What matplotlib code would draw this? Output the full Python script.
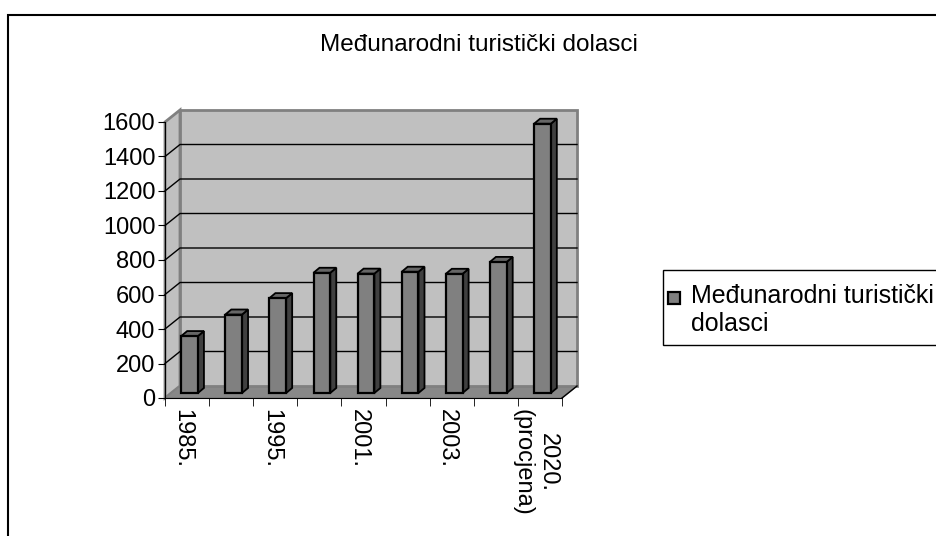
import numpy as np
import matplotlib.pyplot as plt
from matplotlib.patches import Polygon, Rectangle
from matplotlib.transforms import IdentityTransform, ScaledTranslation

plt.rcParams['font.family'] = ['Liberation Sans', 'DejaVu Sans']

godine = ['1985.', '1990.', '1995.', '2000.', '2001.', '2002.', '2003.', '2004.',
          '2020.\n(procjena)']
dolasci = [330, 455, 550, 697, 692, 703, 691, 760, 1561]
prikazane = [0, 2, 4, 6, 8]
naslov = 'Međunarodni turistički dolasci'
serija = 'Međunarodni turistički\ndolasci'
y_ticks = list(range(0, 1601, 200))

W, H = 936, 536
fig = plt.figure(figsize=(W / 100, H / 100), dpi=100)


def fx(x):
    return x / W


def fy(y):
    return 1 - y / H


ax = fig.add_axes([fx(165), fy(398), 397 / W, 276 / H])
n = len(dolasci)
x0, x1 = -0.5, n - 0.5
top = y_ticks[-1]
ax.set_xlim(x0, x1)
ax.set_ylim(0, top)
ax.set_autoscale_on(False)
ax.patch.set_visible(False)
ax.spines['top'].set_visible(False)
ax.spines['right'].set_visible(False)

# pseudo 3d: depth of the plot box in pixels (right, up)
DEPTH = np.array([15.0, 12.0])
ident = IdentityTransform()


def px(x, y, d=0.0):
    return ax.transData.transform((x, y)) + d * DEPTH


def face(pts, fc, ec='black', lw=1.0, z=1):
    ax.add_patch(Polygon(pts, closed=True, fc=fc, ec=ec, lw=lw,
                         transform=ident, clip_on=False, zorder=z))


# walls and floor
face([px(x0, 0), px(x0, top), px(x0, top, 1), px(x0, 0, 1)], '#c0c0c0', '#808080', 2)
face([px(x0, 0), px(x1, 0), px(x1, 0, 1), px(x0, 0, 1)], '#888888', '#808080', 1)
face([px(x0, 0, 1), px(x1, 0, 1), px(x1, top, 1), px(x0, top, 1)], '#c0c0c0', '#808080', 2)

for g in y_ticks[1:-1]:
    pts = np.array([px(x0, g), px(x0, g, 1), px(x1, g, 1)])
    ax.plot(pts[:, 0], pts[:, 1], color='black', lw=1, transform=ident,
            clip_on=False, zorder=1.5)

edge = np.array([px(x1, 0), px(x1, 0, 1)])
ax.plot(edge[:, 0], edge[:, 1], color='black', lw=1, transform=ident,
        clip_on=False, zorder=1.5)

# columns: front face offset and column depth, in pixels
hw = 0.19
BAR_OFF = np.array([2.5, 5.0])
BAR_D = np.array([6.0, 5.0])
shift = ScaledTranslation(BAR_OFF[0] / 100, BAR_OFF[1] / 100, fig.dpi_scale_trans)
stupci = ax.bar(range(n), dolasci, width=2 * hw, color='#808080', edgecolor='black',
                linewidth=1.6, transform=ax.transData + shift, clip_on=False, zorder=3)


def bp(x, y, back=False):
    return ax.transData.transform((x, y)) + BAR_OFF + (BAR_D if back else 0)


for i, v in enumerate(dolasci):
    face([bp(i + hw, 0), bp(i + hw, 0, True), bp(i + hw, v, True), bp(i + hw, v)],
         '#404040', 'black', 1.3, 2.9)
    face([bp(i - hw, v), bp(i + hw, v), bp(i + hw, v, True), bp(i - hw, v, True)],
         '#666666', 'black', 1.3, 2.9)

# axes
ax.spines['left'].set_color('black')
ax.spines['bottom'].set_color('black')
ax.set_yticks(y_ticks)
ax.tick_params(axis='y', direction='out', length=5, labelsize=17, pad=2)
ax.set_xticks(prikazane)
ax.set_xticklabels([godine[i] for i in prikazane], rotation=270, ha='center',
                   va='top', multialignment='center')
ax.set_xticks(np.arange(x0, x1 + 0.01, 1), minor=True)
ax.tick_params(axis='x', which='major', length=0, labelsize=17, pad=8)
ax.tick_params(axis='x', which='minor', direction='out', length=6)
lift = ScaledTranslation(-0.045, 0, fig.dpi_scale_trans)
for lbl in ax.get_xticklabels():
    lbl.set_transform(lbl.get_transform() + lift)

fig.text(fx(479), fy(45), naslov, ha='center', va='center', fontsize=17.5)

# legend box, runs off the right edge
fig.add_artist(Rectangle((fx(663), fy(345)), 0.5, 75 / H, transform=fig.transFigure,
                         fc='white', ec='black', lw=1))
fig.add_artist(Rectangle((fx(668), fy(304)), 12 / W, 12 / H, transform=fig.transFigure,
                         fc=stupci.patches[0].get_facecolor(), ec='black', lw=1.6))
fig.text(fx(691), fy(284), serija, ha='left', va='top', fontsize=18, linespacing=1.2)

fig.add_artist(Rectangle((fx(8), -0.1), 1.2, 1.1 - 15 / H, transform=fig.transFigure,
                         fill=False, ec='black', lw=1.5))

fig.savefig('out.png', dpi=100)
